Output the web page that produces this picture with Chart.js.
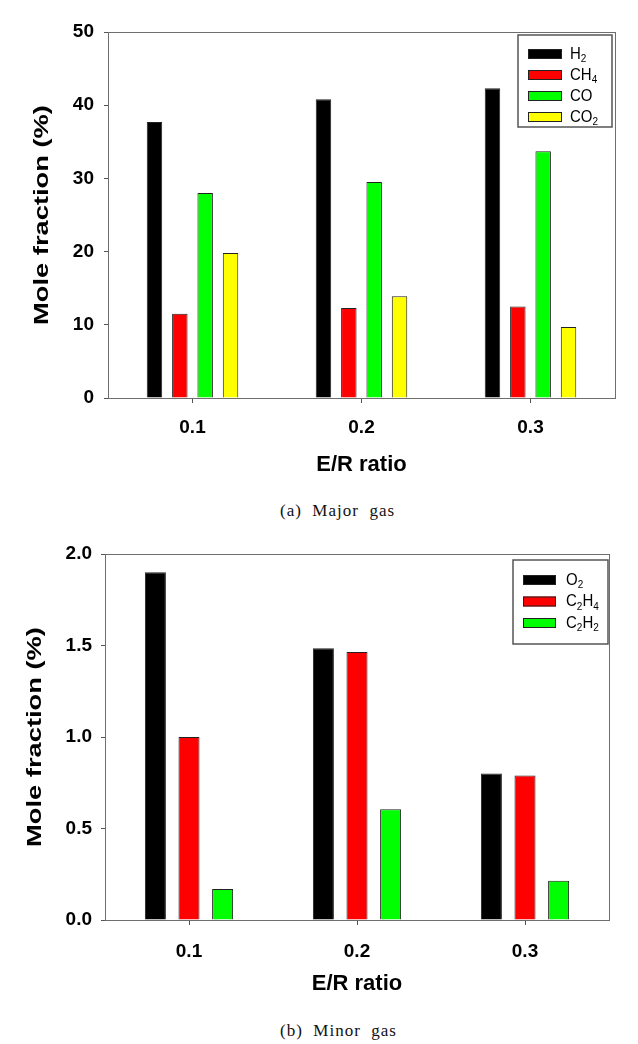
<!DOCTYPE html>
<html>
<head>
<meta charset="utf-8">
<script src="https://cdn.jsdelivr.net/npm/chart.js@4.4.1/dist/chart.umd.min.js"></script>
<style>
  html, body { margin: 0; padding: 0; background: #fff; }
  #page { position: relative; width: 638px; height: 1044px; overflow: hidden; }
  .box { position: absolute; left: 0; width: 638px; }
  #box-major { top: 0; height: 490px; }
  #box-minor { top: 530px; height: 480px; }
  .caption {
    position: absolute; left: 280px;
    font-family: "Liberation Serif", "DejaVu Serif", serif;
    font-size: 17px; letter-spacing: 1px; white-space: pre; color: #111; line-height: 20px;
  }
</style>
</head>
<body>
<div id="page">
  <div class="box" id="box-major"><canvas id="chart-major"></canvas></div>
  <div class="caption" style="top:501px">(a)  Major  gas</div>
  <div class="box" id="box-minor"><canvas id="chart-minor"></canvas></div>
  <div class="caption" style="top:1021px">(b)  Minor  gas</div>
</div>
<script>
// ---- datos ----
const ratios = ["0.1", "0.2", "0.3"];

const majorGases = ["H_2", "CH_4", "CO", "CO_2"];
const h2  = [37.7, 40.8, 42.3];
const ch4 = [11.5, 12.3, 12.5];
const co  = [28.0, 29.5, 33.7];
const co2 = [19.8, 13.9, 9.7];
const majorTicks = [0, 10, 20, 30, 40, 50];

const minorGases = ["O_2", "C_2H_4", "C_2H_2"];
const o2   = [1.90, 1.485, 0.80];
const c2h4 = [1.00, 1.465, 0.79];
const c2h2 = [0.17, 0.605, 0.215];
const minorTicks = [0, 0.5, 1.0, 1.5, 2.0];

const FONT = "'Liberation Sans', Arial, sans-serif";
const COLORS = ["#000000", "#ff0000", "#00ff00", "#ffff00"];

// texto con subíndices: "C_2H_4" -> el carácter tras "_" va abajo
function drawSubText(ctx, label, x, y, size) {
  let cx = x;
  for (let i = 0; i < label.length; i++) {
    let ch = label[i], sub = false;
    if (ch === "_") { i++; ch = label[i]; sub = true; }
    ctx.font = (sub ? Math.round(size * 0.68) : size) + "px " + FONT;
    ctx.fillText(ch, cx, sub ? y + size * 0.32 : y);
    cx += ctx.measureText(ch).width;
  }
}

// marco, leyenda y título vertical
const decor = {
  id: "decor",
  afterDraw(chart, args, o) {
    const { ctx, chartArea: a } = chart;
    ctx.save();
    ctx.strokeStyle = "#6e6e6e";
    ctx.lineWidth = 1;
    ctx.strokeRect(Math.round(a.left) + 0.5, Math.round(a.top) + 0.5, Math.round(a.right - a.left), Math.round(a.bottom - a.top));

    // leyenda
    const L = o.legend;
    const bx = a.right + L.dx, by = a.top + L.dy;
    ctx.strokeStyle = "#555";
    ctx.lineWidth = 1.5;
    ctx.strokeRect(bx, by, L.w, L.h);
    ctx.textBaseline = "middle";
    ctx.textAlign = "left";
    chart.data.datasets.forEach((ds, i) => {
      const cy = by + L.rowTop + i * L.rowGap;
      ctx.fillStyle = ds.backgroundColor;
      ctx.fillRect(bx + L.swX, cy - L.swH / 2, L.swW, L.swH);
      ctx.strokeStyle = "#222";
      ctx.lineWidth = 1;
      ctx.strokeRect(bx + L.swX + 0.5, cy - L.swH / 2 + 0.5, L.swW - 1, L.swH - 1);
      ctx.fillStyle = "#000";
      ctx.save();
      ctx.translate(bx + L.textX, cy);
      ctx.scale(1, 1.1);
      drawSubText(ctx, ds.label, 0, 0, L.size);
      ctx.restore();
    });

    // título eje y
    const T = o.ytitle;
    ctx.save();
    ctx.translate(T.x, (a.top + a.bottom) / 2 + T.dy);
    ctx.rotate(-Math.PI / 2);
    ctx.scale(T.stretch, 1);
    ctx.font = "bold " + T.size + "px " + FONT;
    ctx.fillStyle = "#000";
    ctx.textAlign = "center";
    ctx.textBaseline = "middle";
    ctx.fillText(T.text, 0, 0);
    ctx.restore();
    ctx.restore();
  }
};

function makeChart(id, labels, series, gases, ticks, cfg) {
  return new Chart(document.getElementById(id), {
    type: "bar",
    data: {
      labels,
      datasets: series.map((s, i) => ({
        label: gases[i], data: s, backgroundColor: COLORS[i],
        borderColor: "#222", borderWidth: 1,
        barPercentage: cfg.barPct, categoryPercentage: 0.6
      }))
    },
    options: {
      responsive: true, maintainAspectRatio: false, animation: false,
      layout: { padding: { left: 0, right: cfg.padRight, top: cfg.padTop, bottom: 0 } },
      plugins: {
        legend: { display: false }, tooltip: { enabled: false },
        decor: { legend: cfg.legend, ytitle: cfg.ytitle }
      },
      scales: {
        x: {
          offset: true,
          grid: { offset: false, drawOnChartArea: false, tickLength: 5, color: "#555" },
          border: { color: "#6e6e6e" },
          ticks: { color: "#000", font: { family: FONT, size: 19, weight: "bold" }, padding: cfg.xTickPad, maxRotation: 0 },
          title: { display: true, text: "E/R ratio", color: "#000", font: { family: FONT, size: 22, weight: "bold" }, padding: { top: 0, bottom: cfg.xTitlePad } },
          afterFit: s => { s.height = cfg.xHeight; }
        },
        y: {
          min: ticks[0], max: ticks[ticks.length - 1],
          afterBuildTicks: s => { s.ticks = ticks.map(v => ({ value: v })); },
          grid: { drawOnChartArea: false, tickLength: 4, color: "#555" },
          border: { color: "#6e6e6e" },
          ticks: { color: "#000", font: { family: FONT, size: 19, weight: "bold" }, padding: cfg.yTickPad, callback: cfg.fmt },
          afterFit: s => { s.width = cfg.yWidth; }
        }
      }
    },
    plugins: [decor]
  });
}

makeChart("chart-major", ratios, [h2, ch4, co, co2], majorGases, majorTicks, {
  barPct: 0.61, padRight: 23, padTop: 32, xHeight: 92, xTitlePad: 12, xTickPad: 13, yWidth: 108, yTickPad: 10,
  fmt: v => String(v),
  legend: { dx: -97, dy: 3, w: 94, h: 92, rowTop: 19, rowGap: 21, swX: 10, swW: 34, swH: 10, textX: 52, size: 15 },
  ytitle: { text: "Mole fraction (%)", x: 42, dy: 0, size: 21, stretch: 1.3 }
});

makeChart("chart-minor", ratios, [o2, c2h4, c2h2], minorGases, minorTicks, {
  barPct: 0.625, padRight: 29, padTop: 24, xHeight: 90, xTitlePad: 13, xTickPad: 15, yWidth: 105, yTickPad: 9,
  fmt: v => v.toFixed(1),
  legend: { dx: -96, dy: 6, w: 95, h: 84, rowTop: 20, rowGap: 21.5, swX: 10, swW: 33, swH: 10, textX: 53, size: 15 },
  ytitle: { text: "Mole fraction (%)", x: 35, dy: 0, size: 21, stretch: 1.3 }
});
</script>
</body>
</html>
